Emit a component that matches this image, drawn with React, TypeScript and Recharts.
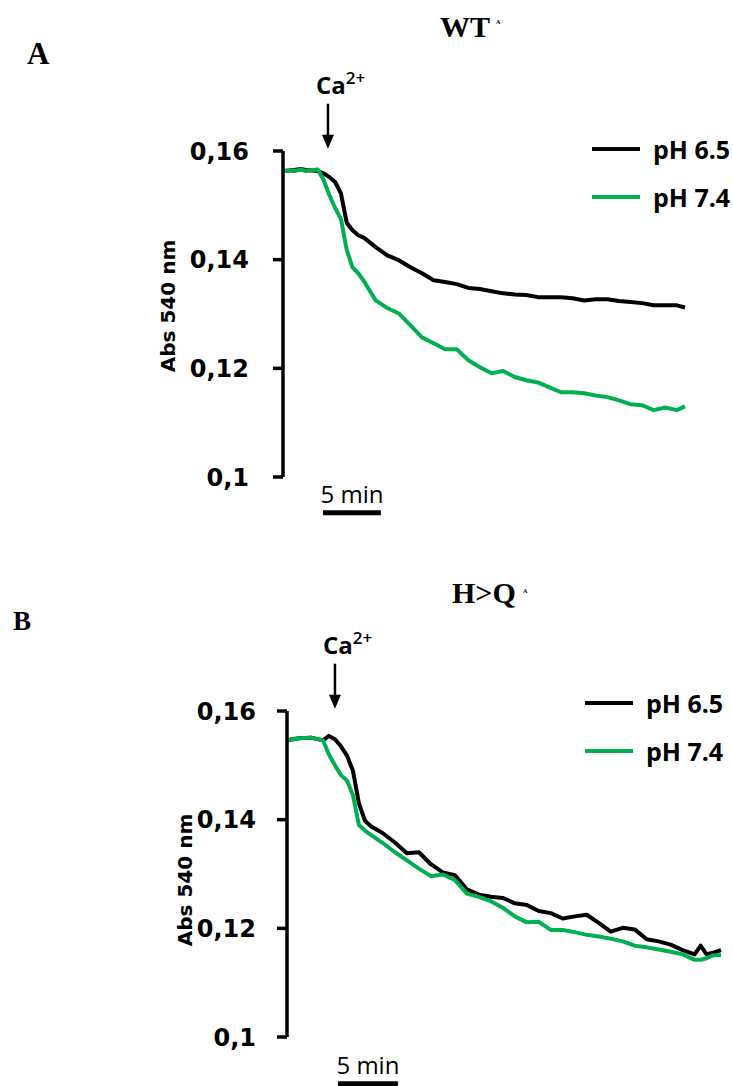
import { Legend, Line, LineChart, ReferenceLine, XAxis, YAxis } from 'recharts';

// Panel A (WT) — minutes after start of recording
const TIME_A = [0, 1, 1.5, 2, 3, 3.5, 4, 4.5, 5, 5.5, 6, 6.5, 7, 8, 9, 10, 11, 12, 13, 14, 15, 16, 17, 18, 19, 20, 21, 22, 23, 24, 25, 26, 27, 28, 29, 30, 31, 32, 33, 34, 34.7];
const WT_PH65 = [0.1563, 0.1565, 0.1567, 0.1565, 0.1563, 0.1559, 0.1552, 0.1543, 0.1522, 0.1468, 0.1454, 0.1445, 0.144, 0.1423, 0.1408, 0.1399, 0.1386, 0.1375, 0.1362, 0.1359, 0.1355, 0.1348, 0.1346, 0.1342, 0.1338, 0.1336, 0.1335, 0.1331, 0.1331, 0.1331, 0.1329, 0.1325, 0.1327, 0.1327, 0.1324, 0.1322, 0.132, 0.1316, 0.1316, 0.1316, 0.1312];
const WT_PH74 = [0.1563, 0.1563, 0.1566, 0.1563, 0.1566, 0.1547, 0.1519, 0.1495, 0.1475, 0.1418, 0.1386, 0.1375, 0.136, 0.1325, 0.1311, 0.1301, 0.1279, 0.1257, 0.1246, 0.1235, 0.1235, 0.1215, 0.1202, 0.1191, 0.1195, 0.1184, 0.1178, 0.1174, 0.1165, 0.1156, 0.1156, 0.1154, 0.115, 0.1147, 0.1141, 0.1134, 0.1132, 0.1123, 0.1128, 0.1123, 0.113];

// Panel B (H>Q)
const TIME_B = [0, 1, 2, 3, 3.5, 4, 4.5, 5, 5.5, 6, 6.5, 7, 8, 9, 10, 11, 12, 13, 14, 15, 16, 17, 18, 19, 20, 21, 22, 23, 24, 25, 26, 27, 28, 29, 30, 31, 32, 33, 34, 34.5, 35, 35.5, 36.2];
const HQ_PH65 = [0.1546, 0.155, 0.1551, 0.1546, 0.1554, 0.1548, 0.1535, 0.1518, 0.149, 0.143, 0.1398, 0.1388, 0.1375, 0.1358, 0.1338, 0.134, 0.1318, 0.1303, 0.1298, 0.1272, 0.1262, 0.1258, 0.1256, 0.1246, 0.1243, 0.1232, 0.1228, 0.1218, 0.1222, 0.1225, 0.121, 0.1194, 0.1201, 0.1198, 0.118, 0.1176, 0.117, 0.116, 0.1152, 0.1168, 0.1152, 0.1155, 0.116];
const HQ_PH74 = [0.1546, 0.155, 0.1551, 0.1546, 0.152, 0.15, 0.1482, 0.1472, 0.1445, 0.139, 0.138, 0.1372, 0.1357, 0.134, 0.1325, 0.131, 0.1296, 0.1299, 0.1289, 0.1264, 0.1258, 0.125, 0.1238, 0.1222, 0.1211, 0.1212, 0.1197, 0.1197, 0.1193, 0.1188, 0.1185, 0.1181, 0.1176, 0.1168, 0.1165, 0.1161, 0.1157, 0.1152, 0.1142, 0.1142, 0.1145, 0.115, 0.1151];

const Y_TICKS = [0.1, 0.12, 0.14, 0.16];
const SERIES = [
  { key: 'ph65', name: 'pH 6.5', color: '#000000' },
  { key: 'ph74', name: 'pH 7.4', color: '#00B050' },
];

const SANS_BOLD = '"DejaVu Sans", sans-serif';
const LABEL_FONT = '"Open Sans", sans-serif';
const SERIF = '"Liberation Serif", "Times New Roman", serif';

function buildRows(time: number[], a: number[], b: number[]) {
  return time.map((t, i) => ({ t, ph65: a[i], ph74: b[i] }));
}

function CaArrow(p: any) {
  const { x1, y1, x2, y2 } = p;
  return (
    <g>
      <line x1={x1} y1={y1} x2={x2} y2={y2 - 12} stroke="#000" strokeWidth={2.5} />
      <path d={`M${x2 - 6},${y2 - 14} L${x2 + 6},${y2 - 14} L${x2},${y2} Z`} fill="#000" />
      <text x={x1 - 12} y={y1 - 10} fontFamily={LABEL_FONT} fontWeight={700} fontSize={24} fill="#000">
        Ca
        <tspan fontSize={17} fontWeight={600} dy={-10}>2+</tspan>
      </text>
    </g>
  );
}

function ScaleBar(p: any) {
  const { x1, y1, x2, y2 } = p;
  return (
    <g>
      <line x1={x1} y1={y1} x2={x2} y2={y2} stroke="#000" strokeWidth={5} />
      <text x={(x1 + x2) / 2} y={y1 - 10} textAnchor="middle" fontFamily={LABEL_FONT} fontSize={24} fill="#000">
        5 min
      </text>
    </g>
  );
}

function LegendBox({ payload }: any) {
  return (
    <div>
      {(payload || []).map((e: any) => (
        <div key={e.value} style={{ display: 'flex', alignItems: 'center', height: 48 }}>
          <svg width={48} height={8} style={{ display: 'block' }}>
            <line x1={0} y1={4} x2={48} y2={4} stroke={e.color} strokeWidth={4} />
          </svg>
          <span style={{ marginLeft: 13, fontFamily: LABEL_FONT, fontWeight: 700, fontSize: 25, color: '#000', lineHeight: 1 }}>
            {e.value}
          </span>
        </div>
      ))}
    </div>
  );
}

function Panel({
  rows,
  top,
  height,
  margin,
  axisWidth,
  tickMargin,
  xMax,
  caX,
  barFrom,
  barY,
  legendPos,
  titleDx,
  titleDy,
}: {
  rows: { t: number; ph65: number; ph74: number }[];
  top: number;
  height: number;
  margin: { top: number; right: number; bottom: number; left: number };
  axisWidth: number;
  tickMargin: number;
  xMax: number;
  caX: number;
  barFrom: number;
  barY: number;
  legendPos: { left: number; top: number };
  titleDx: number;
  titleDy: number;
}) {
  return (
    <div style={{ position: 'absolute', left: 0, top, width: 733, height }}>
      <LineChart width={733} height={height} data={rows} margin={margin} style={{ overflow: 'visible' }}>
        <XAxis dataKey="t" type="number" domain={[0, xMax]} hide />
        <YAxis
          type="number"
          domain={[0.1, 0.16]}
          ticks={Y_TICKS}
          width={axisWidth}
          tickSize={10}
          tickMargin={tickMargin}
          axisLine={{ stroke: '#000', strokeWidth: 3.5 }}
          tickLine={{ stroke: '#000', strokeWidth: 3.5 }}
          tick={{ fill: '#000', fontFamily: SANS_BOLD, fontWeight: 700, fontSize: 24 }}
          tickFormatter={(v: number) => String(v).replace('.', ',')}
          label={{
            content: ({ viewBox }: any) => {
              const cx = viewBox.x + titleDx;
              const cy = viewBox.y + viewBox.height / 2 + titleDy;
              return (
                <text
                  x={cx}
                  y={cy}
                  transform={`rotate(-90, ${cx}, ${cy})`}
                  textAnchor="middle"
                  dominantBaseline="central"
                  fontFamily={SANS_BOLD}
                  fontWeight={700}
                  fontSize={20}
                  fill="#000"
                >
                  Abs 540 nm
                </text>
              );
            },
          }}
        />
        <Legend
          layout="horizontal"
          verticalAlign="middle"
          align="center"
          content={<LegendBox />}
          wrapperStyle={{ left: legendPos.left, top: legendPos.top, width: 'auto', height: 'auto' }}
        />
        {SERIES.map((s) => (
          <Line
            key={s.key}
            type="linear"
            dataKey={s.key}
            name={s.name}
            stroke={s.color}
            strokeWidth={4}
            strokeLinejoin="round"
            dot={false}
            isAnimationActive={false}
          />
        ))}
        <ReferenceLine
          ifOverflow="visible"
          segment={[{ x: caX, y: 0.1687 }, { x: caX, y: 0.1604 }]}
          shape={CaArrow}
        />
        <ReferenceLine
          ifOverflow="visible"
          segment={[{ x: barFrom, y: barY }, { x: barFrom + 5, y: barY }]}
          shape={ScaleBar}
        />
      </LineChart>
    </div>
  );
}

export default function App() {
  const rowsA = buildRows(TIME_A, WT_PH65, WT_PH74);
  const rowsB = buildRows(TIME_B, HQ_PH65, HQ_PH74);
  return (
    <div style={{ position: 'absolute', left: 0, top: 0, width: 733, height: 1086, background: '#fff', overflow: 'hidden' }}>
      <svg width={733} height={1086} style={{ position: 'absolute', left: 0, top: 0 }}>
        <g fontFamily={SERIF} fontWeight={700} fill="#000">
          <text x={440} y={37} fontSize={30}>WT</text>
          <text x={496} y={24} fontSize={6}>A</text>
          <text x={27} y={64} fontSize={31}>A</text>
          <text x={452} y={603} fontSize={30}>H&gt;Q</text>
          <text x={523} y={593} fontSize={6}>A</text>
          <text x={13} y={630} fontSize={27}>B</text>
        </g>
      </svg>
      <Panel
        rows={rowsA}
        top={0}
        height={540}
        margin={{ top: 151, right: 48, bottom: 63, left: 0 }}
        axisWidth={283}
        tickMargin={24}
        xMax={34.7}
        caX={3.88}
        barFrom={3.45}
        barY={0.0934}
        legendPos={{ left: 592, top: 125 }}
        titleDx={168}
        titleDy={-8}
      />
      <Panel
        rows={rowsB}
        top={560}
        height={526}
        margin={{ top: 151, right: 12, bottom: 49, left: 0 }}
        axisWidth={287}
        tickMargin={21}
        xMax={36.2}
        caX={4.0}
        barFrom={4.25}
        barY={0.0914}
        legendPos={{ left: 585, top: 119 }}
        titleDx={185}
        titleDy={6}
      />
    </div>
  );
}
